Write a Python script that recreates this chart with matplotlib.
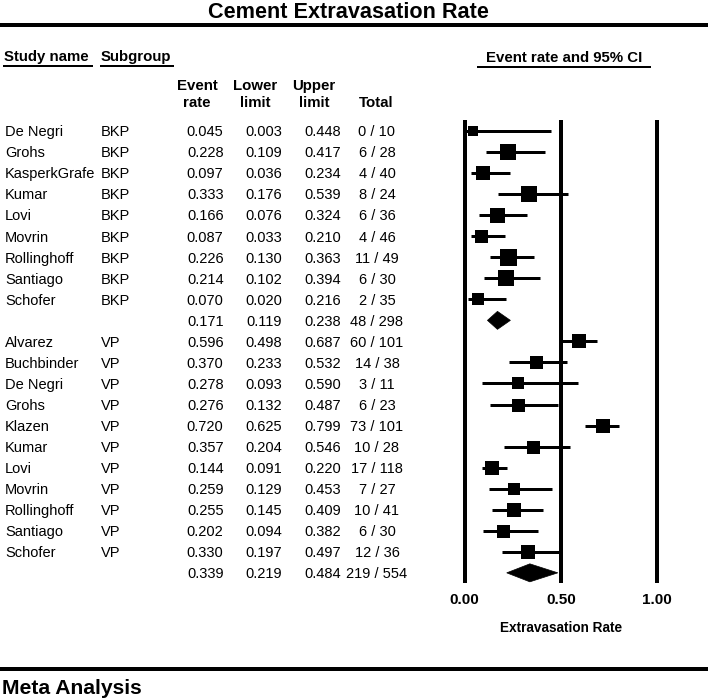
import matplotlib
matplotlib.use('Agg')
import matplotlib.pyplot as plt
from matplotlib.patches import Polygon

plt.rcParams['font.family'] = ['Liberation Sans', 'DejaVu Sans']

# ---------------- data ----------------
bkp_names = ["De Negri", "Grohs", "KasperkGrafe", "Kumar", "Lovi", "Movrin",
             "Rollinghoff", "Santiago", "Schofer"]
bkp_rate = [0.045, 0.228, 0.097, 0.333, 0.166, 0.087, 0.226, 0.214, 0.070]
bkp_lower = [0.003, 0.109, 0.036, 0.176, 0.076, 0.033, 0.130, 0.102, 0.020]
bkp_upper = [0.448, 0.417, 0.234, 0.539, 0.324, 0.210, 0.363, 0.394, 0.216]
bkp_events = [0, 6, 4, 8, 6, 4, 11, 6, 2]
bkp_total = [10, 28, 40, 24, 36, 46, 49, 30, 35]
bkp_summary = (0.171, 0.119, 0.238, 48, 298)

vp_names = ["Alvarez", "Buchbinder", "De Negri", "Grohs", "Klazen", "Kumar",
            "Lovi", "Movrin", "Rollinghoff", "Santiago", "Schofer"]
vp_rate = [0.596, 0.370, 0.278, 0.276, 0.720, 0.357, 0.144, 0.259, 0.255, 0.202, 0.330]
vp_lower = [0.498, 0.233, 0.093, 0.132, 0.625, 0.204, 0.091, 0.129, 0.145, 0.094, 0.197]
vp_upper = [0.687, 0.532, 0.590, 0.487, 0.799, 0.546, 0.220, 0.453, 0.409, 0.382, 0.497]
vp_events = [60, 14, 3, 6, 73, 10, 17, 7, 10, 6, 12]
vp_total = [101, 38, 11, 23, 101, 28, 118, 27, 41, 30, 36]
vp_summary = (0.339, 0.219, 0.484, 219, 554)

x_ticks = [0.0, 0.5, 1.0]
x_tick_labels = ["0.00", "0.50", "1.00"]

# style: square side (px) per study
bkp_sq = [10, 16, 14, 16, 15, 13, 17, 16, 12]
vp_sq = [14, 13, 12, 13, 14, 13, 14, 12, 14, 13, 14]

# ---------------- build rows ----------------
rows = []
for i in range(len(bkp_names)):
    rows.append(dict(name=bkp_names[i], sub="BKP", est=bkp_rate[i], lo=bkp_lower[i],
                     hi=bkp_upper[i], ev=bkp_events[i], n=bkp_total[i], sq=bkp_sq[i], summ=False))
rows.append(dict(name="", sub="", est=bkp_summary[0], lo=bkp_summary[1], hi=bkp_summary[2],
                 ev=bkp_summary[3], n=bkp_summary[4], sq=0, summ=True))
for i in range(len(vp_names)):
    rows.append(dict(name=vp_names[i], sub="VP", est=vp_rate[i], lo=vp_lower[i],
                     hi=vp_upper[i], ev=vp_events[i], n=vp_total[i], sq=vp_sq[i], summ=False))
rows.append(dict(name="", sub="", est=vp_summary[0], lo=vp_summary[1], hi=vp_summary[2],
                 ev=vp_summary[3], n=vp_summary[4], sq=0, summ=True))
nrows = len(rows)

# ---------------- figure ----------------
W, H = 708, 700
fig = plt.figure(figsize=(W / 100, H / 100), dpi=100)
bg = fig.add_axes([0, 0, 1, 1])
bg.set_xlim(0, W)
bg.set_ylim(H, 0)
bg.axis('off')

PT = 0.72  # points per pixel
ROW = 21.04
Y0 = 131.0

# title and rules
bg.text(348, 17.5, "Cement Extravasation Rate", ha='center', va='baseline',
        fontsize=15.6, fontweight='bold')
bg.plot([0, W], [25, 25], color='black', lw=4 * PT, solid_capstyle='butt')
bg.plot([0, W], [669, 669], color='black', lw=4 * PT, solid_capstyle='butt')
bg.text(2, 694, "Meta Analysis", ha='left', va='baseline', fontsize=15.2, fontweight='bold')

# headers
hfs = 10.8
bg.text(4, 61.5, "Study name", ha='left', va='baseline', fontsize=hfs, fontweight='bold')
bg.plot([3, 93], [66, 66], color='black', lw=2 * PT, solid_capstyle='butt')
bg.text(101, 61.5, "Subgroup", ha='left', va='baseline', fontsize=hfs, fontweight='bold')
bg.plot([100, 174], [66, 66], color='black', lw=2 * PT, solid_capstyle='butt')
bg.text(564, 61.5, "Event rate and 95% CI", ha='center', va='baseline', fontsize=hfs,
        fontweight='bold')
bg.plot([477, 651], [67, 67], color='black', lw=2 * PT, solid_capstyle='butt')

for cx, l1, l2 in [(197, "Event", "rate"), (255, "Lower", "limit"), (314, "Upper", "limit")]:
    bg.text(cx, 90, l1, ha='center', va='baseline', fontsize=hfs, fontweight='bold')
    bg.text(cx, 107, l2, ha='center', va='baseline', fontsize=hfs, fontweight='bold')
bg.text(376, 107, "Total", ha='center', va='baseline', fontsize=hfs, fontweight='bold')

# table rows
tfs = 10.5
for i, r in enumerate(rows):
    yb = Y0 + ROW * i + 5.3
    if r['name']:
        bg.text(5, yb, r['name'], ha='left', va='baseline', fontsize=tfs)
        bg.text(101, yb, r['sub'], ha='left', va='baseline', fontsize=tfs)
    bg.text(223.5, yb, f"{r['est']:.3f}", ha='right', va='baseline', fontsize=tfs)
    bg.text(282, yb, f"{r['lo']:.3f}", ha='right', va='baseline', fontsize=tfs)
    bg.text(341, yb, f"{r['hi']:.3f}", ha='right', va='baseline', fontsize=tfs)
    bg.text(377, yb, f"{r['ev']} / {r['n']}", ha='center', va='baseline', fontsize=tfs)

# forest axes
top = Y0 - ROW / 2
bottom = Y0 + ROW * (nrows - 0.5)
x0, x1 = 464.5, 657.3
fax = fig.add_axes([x0 / W, 1 - bottom / H, (x1 - x0) / W, (bottom - top) / H])
fax.set_xlim(0, 1)
fax.set_ylim(nrows - 0.5, -0.5)
fax.patch.set_alpha(0)
for s in fax.spines.values():
    s.set_visible(False)
fax.set_yticks([])
fax.set_xticks(x_ticks)
fax.set_xticklabels(x_tick_labels, fontsize=11, fontweight='bold')
fax.tick_params(axis='x', length=0, pad=7)
fax.set_xlabel("Extravasation Rate", fontsize=9.8, fontweight='bold', labelpad=10)

for xv in x_ticks:
    fax.axvline(xv, color='black', lw=4 * PT, solid_capstyle='butt', zorder=1, clip_on=False)

dh = 9.0 / ROW
for i, r in enumerate(rows):
    if r['summ']:
        poly = Polygon([(r['lo'], i), (r['est'], i - dh), (r['hi'], i), (r['est'], i + dh)],
                       closed=True, facecolor='black', edgecolor='black', lw=0.5, zorder=3,
                       clip_on=False)
        fax.add_patch(poly)
    else:
        fax.hlines(i, r['lo'], r['hi'], color='black', lw=3 * PT, zorder=2, clip_on=False)
        fax.plot([r['est']], [i], marker='s', ms=r['sq'] * PT, color='black', mew=0,
                 linestyle='none', zorder=3, clip_on=False)

fig.savefig("out.png", dpi=100, facecolor='white')
